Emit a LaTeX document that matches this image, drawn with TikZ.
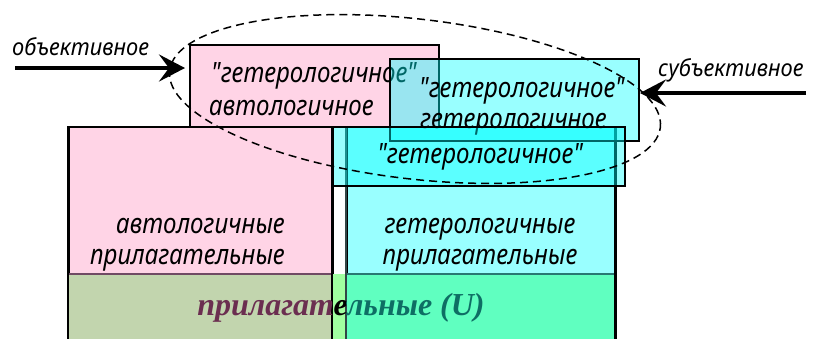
\documentclass[tikz,border=0pt]{standalone}
\usepackage{fontspec}
\setmainfont{Liberation Serif}
% no TeX ligature mapping, so " stays a straight quote; narrowed letters
\newfontfamily\labelfont[FakeStretch=0.86]{Noto Sans}
\newfontfamily\sidefont[FakeStretch=0.93]{Noto Sans}
\usetikzlibrary{shapes.geometric,arrows.meta}

\definecolor{pinkfill}{RGB}{255,212,230}
\definecolor{cyanfill}{RGB}{153,255,255}
\definecolor{aqua}{RGB}{0,255,255}
\definecolor{olivefill}{RGB}{194,213,174}
\definecolor{greenfill}{RGB}{160,255,160}
\definecolor{mintfill}{RGB}{96,255,192}
\definecolor{maroontext}{RGB}{107,46,80}
\definecolor{tealtext}{RGB}{14,110,100}
\definecolor{maroonline}{RGB}{112,74,100}
\definecolor{tealline}{RGB}{40,120,115}
\definecolor{darkedge}{RGB}{50,70,70}

\tikzset{
  frame/.style={draw=black, line width=1.5pt, inner sep=0pt, anchor=north west},
  glass/.style={frame, fill=aqua, fill opacity=0.4, draw opacity=1},
  lbl/.style={font=\labelfont\itshape\fontsize{28}{30}\selectfont, inner sep=0pt, text=black},
  side/.style={font=\sidefont\itshape\fontsize{23.5}{30}\selectfont, inner sep=0pt, text=black},
  utext/.style={font=\rmfamily\bfseries\itshape\fontsize{32}{34}\selectfont, inner sep=0pt},
  bigarrow/.style={line width=4pt, -{Stealth[length=26pt, width=27pt, inset=10pt]}},
  oval/.style={draw=black, line width=1.5pt, dash pattern=on 8pt off 5pt, ellipse, inner sep=0pt}
}

\begin{document}
\begin{tikzpicture}[x=1pt, y=-1pt]
\useasboundingbox (0,0) rectangle (819,338);
\begin{scope}
\clip (0,0) rectangle (819,338);

% large sets of adjectives
\node[frame, fill=pinkfill, minimum width=264pt, minimum height=220pt] (auto) at (68,126) {};
\node[frame, fill=cyanfill, minimum width=269pt, minimum height=220pt] (hetero) at (346,126) {};

% universe band along the bottom
\fill[olivefill] (68,274) rectangle (332,345);
\fill[greenfill] (332,274) rectangle (346,345);
\fill[mintfill] (346,274) rectangle (615,345);
\draw[maroonline, line width=1.2pt] (68,274) -- (332,274);
\draw[tealline, line width=1.2pt] (346,274) -- (615,274);
\draw[black, line width=1.5pt] (68,126) -- (68,345) (332,126) -- (332,345) (615,126) -- (615,345);
\draw[darkedge, line width=1.2pt] (346,126) -- (346,345);

\begin{scope}
  \clip (0,274) rectangle (332,345);
  \node[utext, text=maroontext, anchor=base] (ua) at (341,315) {прилагательные (U)};
\end{scope}
\begin{scope}
  \clip (332,274) rectangle (346,345);
  \node[utext, text=black, anchor=base] (ub) at (341,315) {прилагательные (U)};
\end{scope}
\begin{scope}
  \clip (346,274) rectangle (819,345);
  \node[utext, text=tealtext, anchor=base] (uc) at (341,315) {прилагательные (U)};
\end{scope}
\end{scope}

\node[lbl, anchor=base east] (auto1) at (285,233) {автологичные};
\node[lbl, anchor=base east] (auto2) at (285,264) {прилагательные};
\node[lbl, anchor=base] (het1) at (480,233) {гетерологичные};
\node[lbl, anchor=base] (het2) at (480,264) {прилагательные};

% objective view
\node[frame, fill=pinkfill, minimum width=249pt, minimum height=82pt] (objbox) at (189,44) {};
\node[lbl, anchor=base west] (obj1) at (211,82) {"гетерологичное"};
\node[lbl, anchor=base west] (obj2) at (209,115) {автологичное};

% subjective view
\node[glass, minimum width=249pt, minimum height=82pt] (subbox) at (389,58) {};
\node[lbl, anchor=base west] (sub1) at (419,97) {"гетерологичное"};
\node[lbl, anchor=base west] (sub2) at (420,128) {гетерологичное};

% the word itself
\node[glass, minimum width=292pt, minimum height=59pt] (word) at (332,126) {};
\node[lbl, anchor=base] (word1) at (480,163) {"гетерологичное"};

% dashed outline round the word
\node[oval, minimum width=494pt, minimum height=160pt, rotate=-6.6] (ring) at (415,99) {};

% viewpoints
\node[side, anchor=base west] (objlabel) at (12,55) {объективное};
\node[side, anchor=base west] (sublabel) at (658,76) {субъективное};
\coordinate (objfrom) at (15,68);
\coordinate (objto) at (185,68);
\coordinate (subfrom) at (806,93);
\coordinate (subto) at (640,93);
\draw[bigarrow] (objfrom) -- (objto);
\draw[bigarrow] (subfrom) -- (subto);
\end{tikzpicture}
\end{document}
